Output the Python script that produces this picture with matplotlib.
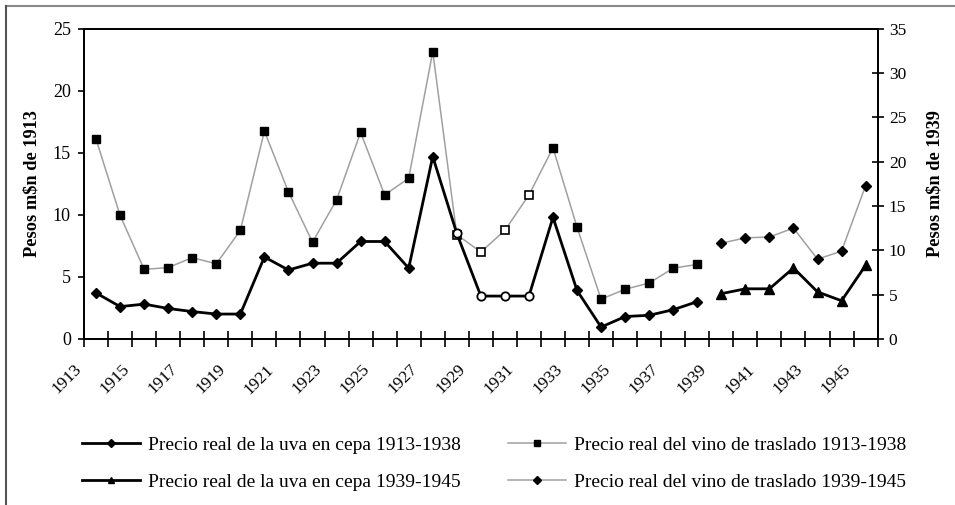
import numpy as np
import matplotlib.pyplot as plt
import matplotlib.transforms as mtransforms
from matplotlib.lines import Line2D

plt.rcParams['font.family'] = ['Liberation Serif', 'DejaVu Serif']

years = list(range(1913, 1946))

# 1913-1938 series (left axis, pesos m$n de 1913)
years_a = list(range(1913, 1939))
uva_a = [3.7, 2.6, 2.8, 2.45, 2.2, 2.0, 2.0, 6.6, 5.55, 6.1, 6.1, 7.85, 7.85, 5.7, 14.7,
         8.5, 3.45, 3.45, 3.45, 9.8, 3.9, 0.95, 1.8, 1.9, 2.35, 3.0]
vino_a = [16.1, 9.95, 5.6, 5.75, 6.55, 6.05, 8.75, 16.75, 11.85, 7.8, 11.2, 16.65, 11.6,
          12.95, 23.15, 8.4, 7.0, 8.75, 11.6, 15.4, 9.0, 3.2, 4.0, 4.5, 5.7, 6.0]
# years drawn with hollow markers
hollow_years = [1928, 1929, 1930, 1931]

# 1939-1945 series (right axis, pesos m$n de 1939)
years_b = list(range(1939, 1946))
uva_b = [5.1, 5.65, 5.65, 8.0, 5.3, 4.3, 8.3]
vino_b = [10.8, 11.4, 11.5, 12.5, 9.0, 9.9, 17.3]

labels = ['Precio real de la uva en cepa 1913-1938',
          'Precio real del vino de traslado 1913-1938',
          'Precio real de la uva en cepa 1939-1945',
          'Precio real del vino de traslado 1939-1945']

gray = '#a0a0a0'

fig = plt.figure(figsize=(9.55, 5.05), dpi=100)
ax = fig.add_axes([0.088, 0.329, 0.831, 0.614])
ax2 = ax.twinx()

filled = [i for i, y in enumerate(years_a) if y not in hollow_years]
hollow = [i for i, y in enumerate(years_a) if y in hollow_years]

l2, = ax.plot(years_a, vino_a, color=gray, lw=1.1, marker='s', ms=6, mfc='black',
              mec='black', markevery=filled, zorder=2)
ax.plot([years_a[i] for i in hollow], [vino_a[i] for i in hollow], ls='none', marker='s',
        ms=5.5, mfc='white', mec='black', mew=1.2, zorder=3)
l1, = ax.plot(years_a, uva_a, color='black', lw=2, marker='D', ms=5.5, mfc='black',
              mec='black', markevery=filled, zorder=4)
ax.plot([years_a[i] for i in hollow], [uva_a[i] for i in hollow], ls='none', marker='o',
        ms=6, mfc='white', mec='black', mew=1.3, zorder=5)

l4, = ax2.plot(years_b, vino_b, color=gray, lw=1.1, marker='D', ms=5.5, mfc='black',
               mec='black')
l3, = ax2.plot(years_b, uva_b, color='black', lw=2, marker='^', ms=6.5, mfc='black',
               mec='black')

ax.set_xlim(1912.5, 1945.5)
ax.set_ylim(0, 25)
ax2.set_ylim(0, 35)
ax.set_yticks(np.arange(0, 26, 5))
ax2.set_yticks(np.arange(0, 36, 5))

ax.set_xticks(years[::2])
ax.set_xticks(np.arange(1912.5, 1946, 1), minor=True)
ax.tick_params(axis='x', which='major', length=0, labelsize=12.5, pad=4)
ax.tick_params(axis='x', which='minor', length=11, direction='inout', width=1.2)
ax.tick_params(axis='y', length=4.5, width=1.2, labelsize=13, pad=5)
ax2.tick_params(axis='y', length=9, width=1.2, direction='inout', labelsize=12.5)

offset = mtransforms.ScaledTranslation(-0.23, -0.17, fig.dpi_scale_trans)
for lab in ax.get_xticklabels():
    lab.set_rotation(45)
    lab.set_rotation_mode('anchor')
    lab.set_ha('right')
    lab.set_va('top')
    lab.set_transform(lab.get_transform() + offset)

for a in (ax, ax2):
    for s in a.spines.values():
        s.set_linewidth(1.3)

ax.set_ylabel('Pesos m$n de 1913', fontsize=13.2, fontweight='bold', labelpad=9)
ax2.set_ylabel('Pesos m$n de 1939', fontsize=13.2, fontweight='bold', labelpad=15)

fig.legend([l1, l3, l2, l4], [labels[0], labels[2], labels[1], labels[3]],
           loc='center left', bbox_to_anchor=(0.086, 0.082), ncol=2, frameon=False,
           fontsize=14, handlelength=3.0, handletextpad=0.4, columnspacing=2.4,
           labelspacing=1.0, borderpad=0, borderaxespad=0, markerscale=0.7)

# frame lines of the scanned figure
fig.add_artist(Line2D([0.006, 1.0], [0.988, 0.988], color='#8a8a8a', lw=1.5))
fig.add_artist(Line2D([0.006, 0.006], [0.0, 0.988], color='#555555', lw=1.5))

fig.savefig('out.png', dpi=100)
